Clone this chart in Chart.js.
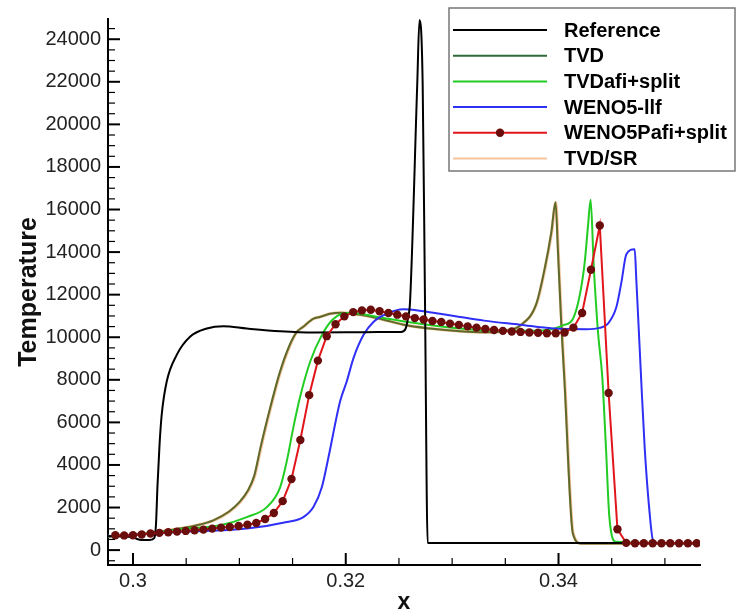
<!DOCTYPE html>
<html>
<head>
<meta charset="utf-8">
<script src="https://cdn.jsdelivr.net/npm/chart.js@4.4.1/dist/chart.umd.min.js"></script>
<style>
  html, body { margin: 0; padding: 0; background: #fff; }
</style>
</head>
<body>
<canvas id="tempChart" width="738" height="615"></canvas>
<script>
// tick labels
const xTicks = [0.3, 0.32, 0.34];
const yTicks = [0, 2000, 4000, 6000, 8000, 10000, 12000, 14000, 16000, 18000, 20000, 22000, 24000];

// Reference
const refX = [0.29765, 0.3000, 0.3003, 0.3008, 0.3015, 0.3020, 0.30216, 0.3023, 0.3025, 0.3027, 0.30317, 0.30411,
  0.30536, 0.30694, 0.3085, 0.3107, 0.31384, 0.31697, 0.3200, 0.3230, 0.3252, 0.32562, 0.32585, 0.32604,
  0.32672, 0.32693, 0.32723, 0.32745, 0.3277, 0.3533];
const refT = [650, 620, 540, 470, 470, 560, 1200, 3000, 5000, 6370, 7920, 9170,
  10020, 10410, 10520, 10410, 10280, 10220, 10230, 10250, 10250, 10400, 10900, 11650,
  21900, 24900, 21900, 11650, 330, 330];

// TVD
const tvdX = [0.29765, 0.3013, 0.3044, 0.3060, 0.30755, 0.3090, 0.3100, 0.3108, 0.3114, 0.3120, 0.3128, 0.3138,
  0.3147, 0.3154, 0.3160, 0.31697, 0.31756, 0.3185, 0.3196, 0.32164, 0.3232, 0.32571, 0.32792, 0.33075, 0.3330,
  0.3350, 0.3364, 0.33791, 0.33869, 0.33932, 0.33972, 0.33994, 0.34025, 0.34056, 0.34135, 0.34213, 0.3533];
const tvdT = [650, 780, 1010, 1165, 1400, 1800, 2250, 2800, 3500, 4850, 6500, 8350,
  9600, 10250, 10490, 10870, 10950, 11100, 11150, 11030, 10870, 10560, 10410, 10280, 10230,
  10300, 10550, 11570, 13200, 14910, 16340, 14130, 10720, 7920, 780, 310, 310];

// TVDafi+split
const tvdAfiX = [0.29765, 0.3013, 0.3044, 0.3082, 0.3107, 0.31258, 0.31383, 0.31446, 0.31509, 0.31571, 0.31665,
  0.31775, 0.3187, 0.31962, 0.3205, 0.3230, 0.3260, 0.3300, 0.3350, 0.3385, 0.34042, 0.34136, 0.34199,
  0.34246, 0.34277, 0.34302, 0.34331, 0.34371, 0.34412, 0.34446, 0.34478, 0.3454, 0.3533];
const tvdAfiT = [650, 780, 980, 1165, 1550, 2020, 2950, 4190, 5800, 7200, 8850,
  10100, 10800, 11100, 11150, 10950, 10700, 10450, 10300, 10320, 10560, 10870, 11960,
  13510, 15220, 16460, 13360, 10250, 8080, 4810, 1550, 390, 320];

// WENO5-llf
const wenoX = [0.29765, 0.3013, 0.3044, 0.3107, 0.31446, 0.31602, 0.31696, 0.31775, 0.31837, 0.31947, 0.32009,
  0.32072, 0.32166, 0.3226, 0.32385, 0.32541, 0.32729, 0.32886, 0.33074, 0.3330, 0.33636, 0.33949, 0.34262,
  0.34387, 0.34465, 0.34544, 0.34591, 0.34638, 0.34716, 0.34731, 0.34763, 0.34778, 0.3481, 0.34857, 0.34888,
  0.3495, 0.3533];
const wenoT = [650, 760, 850, 1010, 1320, 1550, 2020, 2950, 4350, 6990, 7920,
  9010, 10100, 10720, 11100, 11310, 11220, 11100, 10950, 10780, 10590, 10410, 10380,
  10440, 10640, 11420, 12580, 13900, 14130, 12740, 9470, 7920, 4810, 1710, 470,
  320, 320];

// WENO5Pafi+split (one value per grid cell)
const wenoPX = [0.29834, 0.29917, 0.30000, 0.30082, 0.30165, 0.30248, 0.30331, 0.30414, 0.30496, 0.30579,
  0.30662, 0.30745, 0.30828, 0.30910, 0.30993, 0.31076, 0.31159, 0.31242, 0.31324, 0.31407,
  0.31490, 0.31573, 0.31656, 0.31738, 0.31821, 0.31904, 0.31987, 0.32070, 0.32152, 0.32235,
  0.32318, 0.32401, 0.32484, 0.32566, 0.32649, 0.32732, 0.32815, 0.32898, 0.32980, 0.33063,
  0.33146, 0.33229, 0.33312, 0.33394, 0.33477, 0.33560, 0.33643, 0.33726, 0.33808, 0.33891,
  0.33974, 0.34057, 0.34140, 0.34222, 0.34305, 0.34388, 0.34471, 0.34554, 0.34636, 0.34719,
  0.34802, 0.34885, 0.34968, 0.35050, 0.35133, 0.35216, 0.35299];
const wenoPT = [700, 690, 700, 730, 777, 808, 839, 870, 901, 932,
  963, 1010, 1056, 1087, 1134, 1196, 1274, 1460, 1740, 2300,
  3340, 5170, 7280, 8900, 10050, 10610, 10980, 11180, 11260, 11290,
  11220, 11140, 11060, 10980, 10900, 10830, 10760, 10720, 10640, 10580,
  10510, 10450, 10390, 10340, 10300, 10270, 10250, 10220, 10210, 10190,
  10190, 10220, 10450, 11140, 13170, 15250, 7380, 980, 340, 320,
  320, 320, 320, 320, 320, 320, 320];

// TVD/SR (sits on the TVD curve)
const tvdSrX = [0.29765, 0.3013, 0.3044, 0.3060, 0.30760, 0.30905, 0.31005, 0.31085, 0.31145, 0.31205, 0.31285, 0.31385,
  0.31475, 0.3154, 0.3160, 0.31697, 0.31756, 0.3185, 0.3196, 0.32164, 0.3232, 0.32571, 0.32792, 0.33075, 0.3330,
  0.3350, 0.3364, 0.33794, 0.33872, 0.33935, 0.33975, 0.33997, 0.34028, 0.34059, 0.34138, 0.34216, 0.3533];
const tvdSrT = [650, 780, 1010, 1165, 1400, 1800, 2250, 2800, 3500, 4850, 6500, 8350,
  9600, 10250, 10490, 10870, 10950, 11100, 11150, 11030, 10870, 10560, 10410, 10280, 10230,
  10300, 10550, 11570, 13200, 14910, 16340, 14130, 10720, 7920, 780, 310, 310];

const pts = (xs, ys) => xs.map((x, i) => ({ x, y: ys[i] }));
const FONT = "'Liberation Sans', Arial, Helvetica, sans-serif";
Chart.defaults.font.family = FONT;
Chart.defaults.color = '#111';

// inward major / minor ticks, tecplot style
const innerTicks = {
  id: 'innerTicks',
  afterDraw(chart) {
    const { ctx, chartArea: a, scales: { x, y } } = chart;
    ctx.save();
    ctx.strokeStyle = '#000';
    const line = (x1, y1, x2, y2, w) => {
      ctx.lineWidth = w;
      ctx.beginPath(); ctx.moveTo(x1, y1); ctx.lineTo(x2, y2); ctx.stroke();
    };
    for (let i = Math.ceil(x.min / 0.005 - 1e-6); i * 0.005 <= x.max + 1e-9; i++) {
      const px = x.getPixelForValue(i * 0.005);
      const major = i % 4 === 0;
      line(px, a.bottom, px, a.bottom - (major ? 12 : 7), major ? 2 : 1.2);
    }
    for (let i = Math.ceil(y.min / 500); i * 500 <= y.max; i++) {
      const py = y.getPixelForValue(i * 500);
      const major = i % 4 === 0;
      line(a.left, py, a.left + (major ? 12 : 7), py, major ? 2 : 1.2);
    }
    ctx.restore();
  }
};

// boxed legend in the upper right corner
const boxLegend = {
  id: 'boxLegend',
  afterDraw(chart) {
    const ctx = chart.ctx;
    ctx.save();
    ctx.fillStyle = '#fff';
    ctx.fillRect(449, 8, 286, 163);
    ctx.strokeStyle = '#777';
    ctx.lineWidth = 1.5;
    ctx.strokeRect(449, 8, 286, 163);
    ctx.font = 'bold 20px ' + FONT;
    ctx.textBaseline = 'middle';
    chart.data.datasets.forEach((ds, i) => {
      const yy = 30 + i * 25.7;
      ctx.strokeStyle = ds.legendColor || ds.borderColor;
      ctx.lineWidth = 2;
      ctx.beginPath(); ctx.moveTo(453, yy); ctx.lineTo(547, yy); ctx.stroke();
      if (ds.pointRadius) {
        ctx.fillStyle = ds.pointBackgroundColor;
        ctx.beginPath(); ctx.arc(500, yy, ds.pointRadius, 0, Math.PI * 2); ctx.fill();
      }
      ctx.fillStyle = '#000';
      ctx.fillText(ds.label, 564, yy + 1);
    });
    ctx.restore();
  }
};

new Chart(document.getElementById('tempChart'), {
  type: 'line',
  data: {
    datasets: [
      { label: 'Reference', data: pts(refX, refT), borderColor: '#000', borderWidth: 2, order: 1 },
      { label: 'TVD', data: pts(tvdX, tvdT), borderColor: '#5d6a2c', legendColor: '#2e6a3a', borderWidth: 2, order: 4 },
      { label: 'TVDafi+split', data: pts(tvdAfiX, tvdAfiT), borderColor: '#22cc22', borderWidth: 2, order: 3 },
      { label: 'WENO5-llf', data: pts(wenoX, wenoT), borderColor: '#2f2ff5', borderWidth: 2, order: 2 },
      { label: 'WENO5Pafi+split', data: pts(wenoPX, wenoPT), borderColor: '#e0161b', borderWidth: 2,
        pointRadius: 4.2, pointBackgroundColor: '#6a0d0d', pointBorderColor: '#6a0d0d', pointBorderWidth: 0,
        cubicInterpolationMode: 'default', tension: 0, order: 0 },
      { label: 'TVD/SR', data: pts(tvdSrX, tvdSrT), borderColor: '#f6c39b', borderWidth: 3, order: 5 }
    ]
  },
  options: {
    responsive: false,
    animation: false,
    devicePixelRatio: 1,
    layout: { padding: { left: 0, right: 38, top: 15, bottom: 0 } },
    elements: {
      point: { radius: 0 },
      line: { cubicInterpolationMode: 'monotone' }
    },
    plugins: { legend: { display: false }, tooltip: { enabled: false } },
    scales: {
      x: {
        type: 'linear', min: 0.29765, max: 0.3533,
        grid: { display: false, drawTicks: false },
        border: { display: true, color: '#000', width: 2 },
        afterBuildTicks: s => { s.ticks = xTicks.map(v => ({ value: v })); },
        afterFit: s => { s.height = 50; },
        ticks: { padding: 4, maxRotation: 0, autoSkip: false, font: { size: 20 }, color: '#222', callback: v => String(v) },
        title: { display: true, text: 'x', color: '#111', font: { size: 23, weight: 'bold', lineHeight: 1 }, padding: { top: 0, bottom: 1 } }
      },
      y: {
        type: 'linear', min: -700, max: 24950,
        grid: { display: false, drawTicks: false },
        border: { display: true, color: '#000', width: 2 },
        afterBuildTicks: s => { s.ticks = yTicks.map(v => ({ value: v })); },
        afterFit: s => { s.width = 108; },
        ticks: { padding: 7, autoSkip: false, font: { size: 20 }, color: '#222', callback: v => String(v) },
        title: { display: true, text: 'Temperature', color: '#111', font: { size: 25, weight: 'bold', lineHeight: 1 }, padding: { top: 17, bottom: 0 } }
      }
    }
  },
  plugins: [innerTicks, boxLegend]
});
</script>
</body>
</html>
